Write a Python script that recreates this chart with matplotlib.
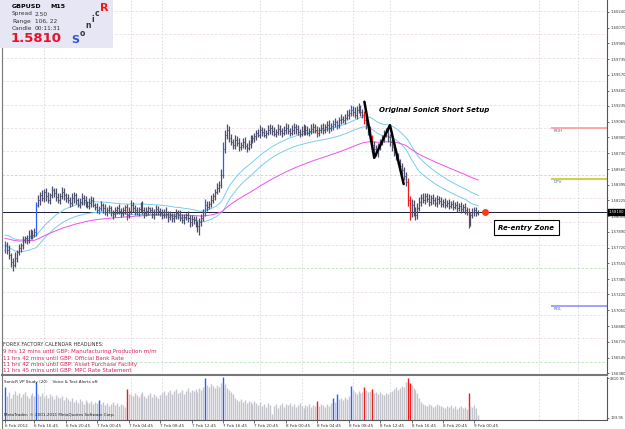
import numpy as np
import pandas as pd
import matplotlib
matplotlib.use("Agg")
import matplotlib.pyplot as plt
from matplotlib.patches import Rectangle

W, H = 625, 429

# ---- data (GBPUSD M15) ----
closes = [
    1.5775, 1.5770, 1.5764, 1.5757, 1.5754, 1.5761, 1.5767, 1.5772, 1.5775, 1.5780, 1.5782, 1.5780, 1.5785, 1.5789, 1.5786, 1.5789,
    1.5818, 1.5823, 1.5828, 1.5825, 1.5832, 1.5827, 1.5823, 1.5828, 1.5834, 1.5831, 1.5826, 1.5823, 1.5827, 1.5832, 1.5828, 1.5825,
    1.5823, 1.5820, 1.5825, 1.5828, 1.5823, 1.5818, 1.5821, 1.5825, 1.5823, 1.5819, 1.5817, 1.5820, 1.5823, 1.5818, 1.5816, 1.5812,
    1.5814, 1.5818, 1.5814, 1.5810, 1.5812, 1.5814, 1.5810, 1.5808, 1.5812, 1.5814, 1.5811, 1.5809, 1.5812, 1.5816, 1.5807, 1.5811,
    1.5818, 1.5814, 1.5812, 1.5810, 1.5813, 1.5817, 1.5812, 1.5809, 1.5811, 1.5814, 1.5812, 1.5808, 1.5810, 1.5813, 1.5811, 1.5809,
    1.5807, 1.5810, 1.5808, 1.5805, 1.5807, 1.5804, 1.5806, 1.5809, 1.5807, 1.5804, 1.5802, 1.5805, 1.5807, 1.5804, 1.5799, 1.5803,
    1.5802, 1.5798, 1.5795, 1.5799, 1.5804, 1.5810, 1.5818, 1.5816, 1.5819, 1.5823, 1.5827, 1.5832, 1.5836, 1.5839, 1.5850, 1.5877,
    1.5893, 1.5898, 1.5889, 1.5885, 1.5882, 1.5887, 1.5884, 1.5880, 1.5882, 1.5885, 1.5881, 1.5879, 1.5883, 1.5887, 1.5889, 1.5891,
    1.5895, 1.5893, 1.5898, 1.5896, 1.5893, 1.5895, 1.5898, 1.5900, 1.5897, 1.5894, 1.5896, 1.5899, 1.5897, 1.5895, 1.5898, 1.5900,
    1.5897, 1.5895, 1.5898, 1.5901, 1.5899, 1.5896, 1.5894, 1.5897, 1.5900, 1.5898, 1.5895, 1.5897, 1.5899, 1.5901, 1.5898, 1.5895,
    1.5898, 1.5900, 1.5898, 1.5901, 1.5903, 1.5900, 1.5902, 1.5904, 1.5906, 1.5903, 1.5908, 1.5910, 1.5908, 1.5911, 1.5914, 1.5916,
    1.5919, 1.5917, 1.5914, 1.5919, 1.5921, 1.5917, 1.5914, 1.5909, 1.5903, 1.5898, 1.5889, 1.5882, 1.5877, 1.5874, 1.5880, 1.5885,
    1.5889, 1.5893, 1.5896, 1.5890, 1.5885, 1.5880, 1.5874, 1.5869, 1.5864, 1.5859, 1.5855, 1.5849, 1.5842, 1.5823, 1.5810, 1.5818,
    1.5812, 1.5807, 1.5814, 1.5821, 1.5825, 1.5823, 1.5827, 1.5824, 1.5821, 1.5825, 1.5823, 1.5820, 1.5824, 1.5822, 1.5819, 1.5821,
    1.5818, 1.5820, 1.5817, 1.5819, 1.5816, 1.5818, 1.5814, 1.5817, 1.5813, 1.5816, 1.5812, 1.5810, 1.5799, 1.5807, 1.5810, 1.5812,
    1.5809, 1.5810,
]
first_open = 1.5770

# wicks above / below the body, in pips
wick_up = [
    4, 3, 5, 2, 4, 6, 3, 4, 2, 5, 3, 4, 6, 3, 2, 4,
    3, 5, 4, 6, 3, 4, 5, 3, 4, 2, 5, 4, 3, 5, 4, 3,
    4, 3, 5, 4, 3, 2, 4, 5, 3, 4, 3, 5, 4, 3, 2, 4,
    3, 4, 2, 5, 3, 4, 3, 2, 4, 3, 5, 3, 4, 2, 3, 4,
    5, 3, 4, 3, 2, 4, 5, 3, 4, 3, 2, 4, 3, 5, 4, 3,
    4, 3, 5, 3, 4, 2, 3, 4, 3, 5, 4, 3, 2, 4, 3, 4,
    3, 4, 3, 5, 4, 3, 6, 4, 3, 5, 4, 3, 5, 4, 6, 8,
    5, 6, 4, 5, 3, 6, 4, 5, 3, 4, 5, 3, 4, 5, 3, 4,
    3, 4, 5, 3, 4, 3, 5, 4, 3, 4, 3, 5, 4, 3, 4, 5,
    4, 3, 5, 4, 3, 4, 3, 5, 4, 3, 4, 3, 5, 4, 3, 4,
    3, 4, 5, 3, 4, 5, 3, 4, 5, 3, 4, 5, 3, 4, 5, 4,
    6, 4, 5, 4, 6, 4, 3, 4, 3, 5, 4, 3, 4, 5, 4, 3,
    4, 5, 4, 3, 4, 3, 4, 3, 4, 3, 4, 3, 4, 5, 4, 6,
    5, 4, 6, 5, 4, 5, 3, 4, 5, 3, 4, 3, 4, 3, 4, 3,
    4, 3, 4, 3, 4, 3, 4, 3, 4, 3, 4, 3, 4, 3, 4, 3,
    3, 2,
]
wick_dn = [
    4, 5, 4, 6, 7, 3, 4, 3, 5, 4, 3, 4, 3, 4, 5, 3,
    4, 3, 5, 3, 4, 5, 3, 4, 3, 5, 4, 3, 4, 3, 5, 4,
    3, 4, 3, 5, 4, 3, 4, 3, 5, 4, 3, 4, 5, 3, 4, 3,
    4, 3, 5, 3, 4, 3, 4, 5, 3, 4, 3, 4, 3, 4, 5, 3,
    3, 4, 5, 3, 4, 3, 4, 5, 3, 4, 3, 4, 5, 3, 4, 3,
    4, 3, 4, 5, 3, 4, 5, 3, 4, 3, 4, 5, 3, 4, 5, 4,
    5, 4, 6, 9, 4, 3, 4, 5, 3, 4, 3, 4, 3, 4, 3, 4,
    4, 5, 4, 3, 5, 4, 3, 5, 4, 3, 4, 5, 3, 4, 3, 4,
    4, 3, 4, 5, 3, 4, 3, 4, 5, 3, 4, 3, 4, 5, 3, 4,
    3, 4, 3, 4, 5, 3, 4, 3, 4, 5, 3, 4, 3, 4, 3, 5,
    4, 3, 4, 3, 4, 5, 3, 4, 3, 4, 3, 4, 3, 4, 3, 4,
    3, 4, 3, 4, 3, 4, 3, 5, 4, 5, 4, 5, 6, 4, 5, 4,
    3, 4, 3, 5, 4, 5, 4, 3, 4, 5, 4, 5, 4, 6, 8, 5,
    6, 5, 4, 3, 4, 3, 4, 3, 4, 3, 4, 3, 4, 3, 4, 3,
    4, 3, 4, 3, 4, 3, 4, 3, 4, 3, 4, 3, 6, 4, 3, 4,
    3, 2,
]

volumes = [
    2210, 1610, 1880, 1470, 1740, 1940, 1670, 1810, 1540, 1740, 1880, 1610, 1470, 1670, 1810, 1610,
    2540, 1740, 1610, 1810, 1540, 1670, 1470, 1740, 1610, 1400, 1670, 1540, 1470, 1610, 1340, 1540,
    1410, 1270, 1470, 1200, 1340, 1140, 1410, 1270, 1070, 1340, 1200, 1140, 1270, 1070, 1200, 1140,
    1340, 1070, 1200, 1000, 1140, 940, 1070, 1200, 1000, 1140, 940, 1070, 1000, 870, 2080, 1740,
    1740, 1610, 1810, 1670, 1540, 1740, 1880, 1610, 1470, 1670, 1810, 1540, 1740, 1610, 1470, 1670,
    1810, 1940, 1670, 1880, 2010, 1740, 1940, 2080, 1810, 1880, 2010, 1740, 1940, 2140, 1880, 2010,
    1940, 2080, 1880, 2140, 2010, 2210, 2810, 2340, 2210, 2410, 2280, 2140, 2340, 2210, 2480, 2880,
    2410, 2140, 2010, 1880, 1740, 1470, 1340, 1270, 1400, 1200, 1340, 1140, 1270, 1200, 1070, 1270,
    1140, 1000, 1200, 940, 1070, 870, 1140, 1000, 400, 940, 1070, 800, 1000, 1140, 870, 1070,
    1000, 1140, 940, 1070, 870, 1000, 1140, 940, 800, 1000, 940, 1070, 870, 1000, 940, 1270,
    940, 1070, 1000, 870, 1070, 940, 1140, 1470, 1200, 1740, 1400, 1470, 1340, 1540, 1400, 1610,
    2280, 2010, 1880, 1740, 1940, 1810, 1880, 2210, 2010, 1880, 1940, 2080, 1810, 1880, 1740, 1880,
    1740, 1670, 1810, 1740, 1880, 1940, 2080, 2210, 2010, 2140, 2280, 2210, 2540, 2810, 2500, 2340,
    2140, 2010, 1810, 1470, 1200, 1070, 1000, 940, 1070, 1000, 870, 940, 1070, 1000, 940, 870,
    800, 940, 870, 1000, 800, 940, 740, 870, 940, 800, 870, 740, 1810, 940, 870, 1000,
    800, 330,
]
blue_bars = [0, 16, 48, 102, 111, 167, 169, 176]
red_bars = [62, 159, 183, 187, 205, 206, 236]

ema_seed_high, ema_seed_low, ema_seed_slow = 1.5786, 1.5774, 1.5782

price_ticks = [1.60240, 1.60070, 1.59905, 1.59735, 1.59570, 1.59400, 1.59235, 1.59065,
               1.58900, 1.58730, 1.58560, 1.58395, 1.58225, 1.58055, 1.57890, 1.57720,
               1.57555, 1.57385, 1.57220, 1.57050, 1.56880, 1.56715, 1.56545, 1.56380]
grid_prices = [1.6025, 1.6000, 1.5975, 1.5950, 1.5925, 1.5900, 1.5875, 1.5850,
               1.5825, 1.5800, 1.5775, 1.5750, 1.5725, 1.5700, 1.5675, 1.5650]
green_levels = [1.5850, 1.5750, 1.5650]
time_ticks = [0, 15, 31, 47, 63, 79, 95, 111, 127, 143, 159, 175, 191, 207, 223, 239]
time_labels = ["6 Feb 2012", "6 Feb 16:45", "6 Feb 20:45", "7 Feb 00:45", "7 Feb 04:45",
               "7 Feb 08:45", "7 Feb 12:45", "7 Feb 16:45", "7 Feb 20:45", "8 Feb 00:45",
               "8 Feb 04:45", "8 Feb 08:45", "8 Feb 12:45", "8 Feb 16:45", "8 Feb 20:45",
               "9 Feb 00:45"]
vgrid_bars = [20, 64, 80, 130, 151, 177, 196, 272, 292]

current_price = 1.5810
pivot_names = ["RDH", "DPV", "RDL"]
pivot_prices = [1.5900, 1.5845, 1.5710]
pivot_colors = ["#ff9a9a", "#c8c820", "#9090ff"]
pivot_start = 278

zig_bars = [183, 188, 196, 203]
zig_prices = [1.5928, 1.5868, 1.5903, 1.5840]

headlines = ["9 hrs 12 mins until GBP: Manufacturing Production m/m",
             "11 hrs 42 mins until GBP: Official Bank Rate",
             "11 hrs 42 mins until GBP: Asset Purchase Facility",
             "11 hrs 45 mins until GBP: MPC Rate Statement"]

# ---- derived series ----
n = len(closes)
idx = np.arange(n)
c = np.array(closes)
o = np.r_[first_open, c[:-1]]
hi = np.maximum(o, c) + np.array(wick_up) * 1e-4
lo = np.minimum(o, c) - np.array(wick_dn) * 1e-4
ema_h = pd.Series(np.r_[ema_seed_high, hi]).ewm(span=34, adjust=False).mean().values[1:]
ema_l = pd.Series(np.r_[ema_seed_low, lo]).ewm(span=34, adjust=False).mean().values[1:]
ema_s = pd.Series(np.r_[ema_seed_slow, c]).ewm(span=89, adjust=False).mean().values[1:]

bar_col = np.array(["#4c4f6c"] * n, dtype=object)
vol_col = np.array(["#c4c4cc"] * n, dtype=object)
for i in blue_bars:
    bar_col[i] = "#2a5cff"
    vol_col[i] = "#2a5cff"
for i in red_bars:
    bar_col[i] = "#f01818"
    vol_col[i] = "#f01818"

SCALE_FS = 2.7   # MT4 price-scale labels are cramped
SMALL_FS = 3.0

plt.rcParams["font.family"] = "DejaVu Sans"
fig = plt.figure(figsize=(W / 100, H / 100), dpi=100)
fig.patch.set_facecolor("white")


def fx(x):
    return x / W


def fy(y):
    return 1 - y / H


ax = fig.add_axes([fx(2), fy(375), fx(605), 375 / H])
axv = fig.add_axes([fx(2), fy(420), fx(605), 43 / H], sharex=ax)

px_per_bar = 1.964
x0 = -3 / px_per_bar
ax.set_xlim(x0, x0 + 605 / px_per_bar)
ax.set_ylim(1.56359, 1.60368)

# grid
for g in grid_prices:
    col = "#b8e0b8" if g in green_levels else "#ecdce6"
    ax.axhline(g, color=col, lw=0.6, ls=(0, (3, 2)), zorder=0)
for b in vgrid_bars:
    ax.axvline(b, color="#d8d8e4", lw=0.6, ls=(0, (2, 2)), zorder=0)
    axv.axvline(b, color="#d8d8e4", lw=0.6, ls=(0, (2, 2)), zorder=0)

# moving averages
ax.plot(idx, ema_h, color="#78cdf0", lw=0.7, zorder=2)
ax.plot(idx, ema_l, color="#78cdf0", lw=0.7, zorder=2)
ax.plot(idx, ema_s, color="#f050f0", lw=0.7, zorder=2)

# price bars
ax.vlines(idx, lo, hi, colors=list(bar_col), lw=0.9, zorder=3)
ax.hlines(o, idx - 0.5, idx, colors=list(bar_col), lw=0.6, zorder=3)
ax.hlines(c, idx, idx + 0.5, colors=list(bar_col), lw=0.6, zorder=3)

# current price line and marker
ax.axhline(current_price, color="#1a1a30", lw=0.7, zorder=1)
ax.plot([n + 2.5], [current_price], "o", color="#ff3a1a", ms=4, zorder=5)

# pivot lines
for name, p, col in zip(pivot_names, pivot_prices, pivot_colors):
    ax.hlines(p, pivot_start, ax.get_xlim()[1], colors=col, lw=1.2, zorder=2)
    ax.text(pivot_start + 1.5, p - 0.0001, name, fontsize=SMALL_FS,
            color="#5868a8", va="top", ha="left")

# SonicR setup sketch
ax.plot(zig_bars, zig_prices, color="black", lw=1.8, solid_capstyle="round", zorder=6)
ax.text(190.5, 1.5919, "Original SonicR Short Setup", fontsize=5, fontweight="bold",
        fontstyle="italic", va="center", ha="left", zorder=6)
ax.text(265.5, 1.57935, "Re-entry Zone", fontsize=5, fontweight="bold", fontstyle="italic",
        va="center", ha="center", zorder=6,
        bbox=dict(boxstyle="square,pad=0.65", fc="white", ec="black", lw=0.8))

# price axis
ax.yaxis.tick_right()
ax.set_yticks(price_ticks)
ax.set_yticklabels([f"{t:.5f}" for t in price_ticks])
ax.tick_params(axis="y", labelsize=SCALE_FS, length=1.5, pad=0.8, colors="#333333", width=0.5)
ax.tick_params(axis="x", bottom=False, labelbottom=False)
for s in ["top", "left"]:
    ax.spines[s].set_visible(False)
ax.spines["right"].set_color("#555555")
ax.spines["right"].set_linewidth(0.8)
ax.spines["bottom"].set_color("#777777")
ax.spines["bottom"].set_linewidth(1.5)
ax.text(1.003, (current_price - 1.56359) / (1.60368 - 1.56359), f"{current_price:.5f}",
        transform=ax.transAxes, fontsize=SCALE_FS, color="white",
        va="center", ha="left", bbox=dict(boxstyle="square,pad=0.2", fc="black", ec="black"))

# volume panel
axv.vlines(idx, 0, volumes, colors=list(vol_col), lw=1.0)
axv.set_ylim(0, 2878)
axv.yaxis.tick_right()
axv.set_yticks([2810.95, 133.95])
axv.set_yticklabels(["2810.95", "133.95"])
axv.tick_params(axis="y", labelsize=SCALE_FS, length=1.5, pad=0.8, colors="#333333", width=0.5)
axv.set_xticks(time_ticks)
axv.set_xticklabels(time_labels, ha="left")
axv.tick_params(axis="x", labelsize=SMALL_FS, length=2, pad=1, colors="#333333", width=0.5)
for s in ["top", "left"]:
    axv.spines[s].set_visible(False)
axv.spines["right"].set_color("#555555")
axv.spines["right"].set_linewidth(0.8)
axv.spines["bottom"].set_color("#555555")
axv.spines["bottom"].set_linewidth(0.8)
axv.text(0.004, 0.93, "SonicR VP Study (20)    Voice & Text Alerts off.", transform=axv.transAxes,
         fontsize=SMALL_FS, color="#222222", va="top")
axv.text(0.004, 0.06, "MetaTrader, \u00a9 2001-2011 MetaQuotes Software Corp.", transform=axv.transAxes,
         fontsize=SMALL_FS, color="#222222", va="bottom")

# left border of the window
fig.add_artist(plt.Line2D([fx(2), fx(2)], [fy(0), fy(429)], color="#777777", lw=0.8))

# info box
fig.add_artist(Rectangle((0, fy(48)), fx(113), 48 / H, transform=fig.transFigure,
                         fc="#e6e6f4", ec="none", zorder=7))
fig.text(fx(12), fy(6), "GBPUSD", fontsize=4.5, fontweight="bold", va="center", zorder=8)
fig.text(fx(50), fy(6), "M15", fontsize=4.5, fontweight="bold", va="center", zorder=8)
for k, (lab, val) in enumerate([("Spread", "2.50"), ("Range", "106, 22"), ("Candle", "00:11:31")]):
    fig.text(fx(12), fy(14 + 7.2 * k), lab, fontsize=4.2, color="#333333", va="center", zorder=8)
    fig.text(fx(35), fy(14 + 7.2 * k), val, fontsize=4.2, color="#333333", va="center", zorder=8)
fig.text(fx(11), fy(39), f"{current_price:.4f}", fontsize=9.5, fontweight="bold", color="#e8102a",
         va="center", zorder=8)
for ch, xx, yy, col, fs in [("S", 75, 40, "#2f52d8", 8), ("o", 82, 33, "#333333", 5.5),
                            ("n", 88, 26, "#333333", 5.5), ("i", 93, 20, "#333333", 5.5),
                            ("c", 97, 14, "#333333", 5.5), ("R", 104, 8, "#f01818", 8)]:
    fig.text(fx(xx), fy(yy), ch, fontsize=fs, fontweight="bold", color=col,
             ha="center", va="center", zorder=8)

# forex factory headlines
fig.text(fx(3), fy(345), "FOREX FACTORY CALENDAR HEADLINES:", fontsize=3.6, color="#333333",
         va="center")
for k, line in enumerate(headlines):
    fig.text(fx(3), fy(352 + 6.3 * k), line, fontsize=4.0, color="#e0205a", va="center")

fig.savefig("out.png", dpi=100)
